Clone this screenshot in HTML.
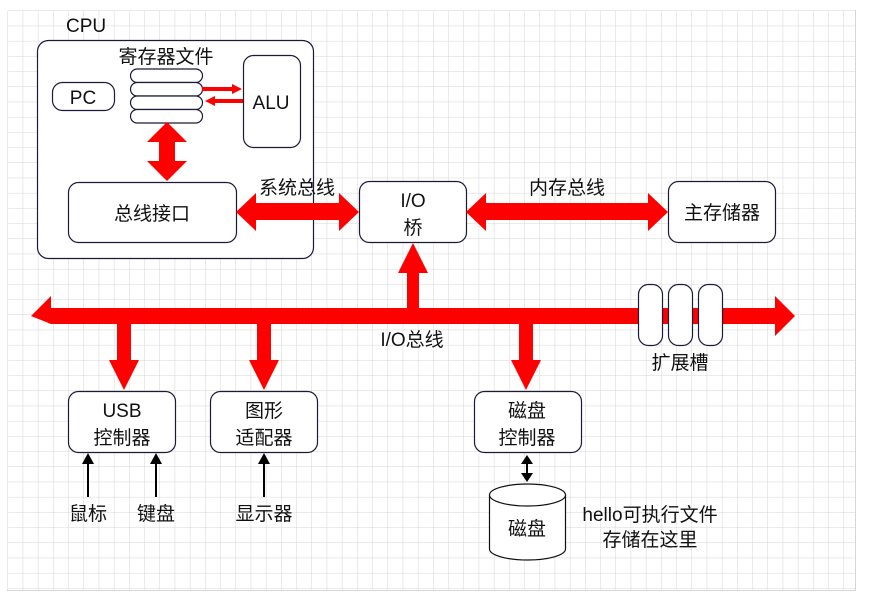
<!DOCTYPE html>
<html><head><meta charset="utf-8"><style>
html,body{margin:0;padding:0;background:#fff;}
svg text{font-family:"Liberation Sans","Noto Sans CJK SC",sans-serif;font-size:19px;fill:#111;}
</style></head><body>
<svg width="869" height="601" viewBox="0 0 869 601" xmlns="http://www.w3.org/2000/svg">
<defs>
<pattern id="g" x="7.5" y="10.5" width="15.2" height="15.2" patternUnits="userSpaceOnUse">
<path d="M0 0H15.2M0 0V15.2" stroke="#d6d6d6" stroke-width="1" fill="none"/>
</pattern>
</defs>
<rect x="7.5" y="10.5" width="848" height="580" fill="url(#g)"/>
<line x1="855.5" y1="10" x2="855.5" y2="591" stroke="#d6d6d6"/>
<line x1="7" y1="590.5" x2="856" y2="590.5" stroke="#d6d6d6"/>

<g fill="#fff" stroke="#1a1a3a" stroke-width="1.2">
<rect x="37.5" y="40.5" width="276" height="218" rx="11"/>
<rect x="52.5" y="82.5" width="62" height="28" rx="10"/>
<rect x="243.5" y="55.5" width="57" height="92" rx="10"/>
<rect x="130.5" y="69" width="72" height="13.5" rx="6.7"/>
<rect x="130.5" y="82.5" width="72" height="13.5" rx="6.7"/>
<rect x="130.5" y="96" width="72" height="13.5" rx="6.7"/>
<rect x="130.5" y="109.5" width="72" height="13.5" rx="6.7"/>
<rect x="68.5" y="182.5" width="168" height="60" rx="10"/>
<rect x="359.5" y="181.5" width="107" height="61" rx="10"/>
<rect x="668.5" y="181.5" width="107" height="61" rx="10"/>
<rect x="68.5" y="391.5" width="107" height="61" rx="10"/>
<rect x="210.5" y="391.5" width="107" height="61" rx="10"/>
<rect x="474.5" y="391.5" width="107" height="61" rx="10"/>
</g>

<g fill="#ff0000">
<polygon points="202,87 232,87 232,84 242,89 232,94 232,91 202,91"/>
<polygon points="243,99 215,99 215,96 205,101 215,106 215,103 243,103"/>
<polygon points="167,122 187,142 175,142 175,161 187,161 167,181 147,161 159,161 159,142 147,142"/>
<polygon points="236,212 256,193 256,203 339,203 339,193 359,212 339,231 339,220 256,220 256,231"/>
<polygon points="466,212 486,193 486,203 648,203 648,193 668,212 648,231 648,220 486,220 486,231"/>
<polygon points="31,316 51,296 51,308 775,308 775,296 795,316 775,336 775,324 51,324"/>
<polygon points="407,308 407,273 398,273 413,243 428,273 419,273 419,308"/>
<polygon points="117,324 131,324 131,360 139,360 124,390 109,360 117,360"/>
<polygon points="257,324 271,324 271,360 279,360 264,390 249,360 257,360"/>
<polygon points="519,324 533,324 533,360 541,360 526,390 511,360 519,360"/>
</g>

<g fill="#fff" stroke="#1a1a3a" stroke-width="1.2">
<rect x="638.5" y="284.5" width="24" height="61" rx="10"/>
<rect x="668.5" y="284.5" width="24" height="61" rx="10"/>
<rect x="698.5" y="284.5" width="24" height="61" rx="10"/>
</g>

<g stroke="#000" stroke-width="2" fill="#000">
<line x1="88" y1="497" x2="88" y2="462"/><polygon points="82,464 94,464 88,453" stroke="none"/>
<line x1="156" y1="497" x2="156" y2="462"/><polygon points="150,464 162,464 156,453" stroke="none"/>
<line x1="264" y1="497" x2="264" y2="462"/><polygon points="258,464 270,464 264,453" stroke="none"/>
<line x1="527" y1="462" x2="527" y2="475"/>
<polygon points="521,464 533,464 527,455" stroke="none"/>
<polygon points="521,473 533,473 527,482" stroke="none"/>
</g>

<g fill="#fff" stroke="#111" stroke-width="1.2">
<path d="M489.5 495 V549 A38 11 0 0 0 565.5 549 V495"/>
<ellipse cx="527.5" cy="495" rx="38" ry="11"/>
</g>

<text x="66" y="32">CPU</text>
<text x="166" y="63" text-anchor="middle">寄存器文件</text>
<text x="83" y="104" text-anchor="middle">PC</text>
<text x="271" y="109" text-anchor="middle">ALU</text>
<text x="152" y="220" text-anchor="middle">总线接口</text>
<text x="297" y="194" text-anchor="middle">系统总线</text>
<text x="413" y="207" text-anchor="middle">I/O</text>
<text x="413" y="234" text-anchor="middle">桥</text>
<text x="567" y="194" text-anchor="middle">内存总线</text>
<text x="722" y="219" text-anchor="middle">主存储器</text>
<text x="412" y="346" text-anchor="middle">I/O总线</text>
<text x="680" y="369" text-anchor="middle">扩展槽</text>
<text x="122" y="417" text-anchor="middle">USB</text>
<text x="122" y="444" text-anchor="middle">控制器</text>
<text x="264" y="417" text-anchor="middle">图形</text>
<text x="264" y="444" text-anchor="middle">适配器</text>
<text x="527" y="417" text-anchor="middle">磁盘</text>
<text x="527" y="444" text-anchor="middle">控制器</text>
<text x="88" y="520" text-anchor="middle">鼠标</text>
<text x="156" y="520" text-anchor="middle">键盘</text>
<text x="264" y="520" text-anchor="middle">显示器</text>
<text x="527" y="535" text-anchor="middle">磁盘</text>
<text x="650" y="521" text-anchor="middle">hello可执行文件</text>
<text x="650" y="546" text-anchor="middle">存储在这里</text>
</svg>
</body></html>
